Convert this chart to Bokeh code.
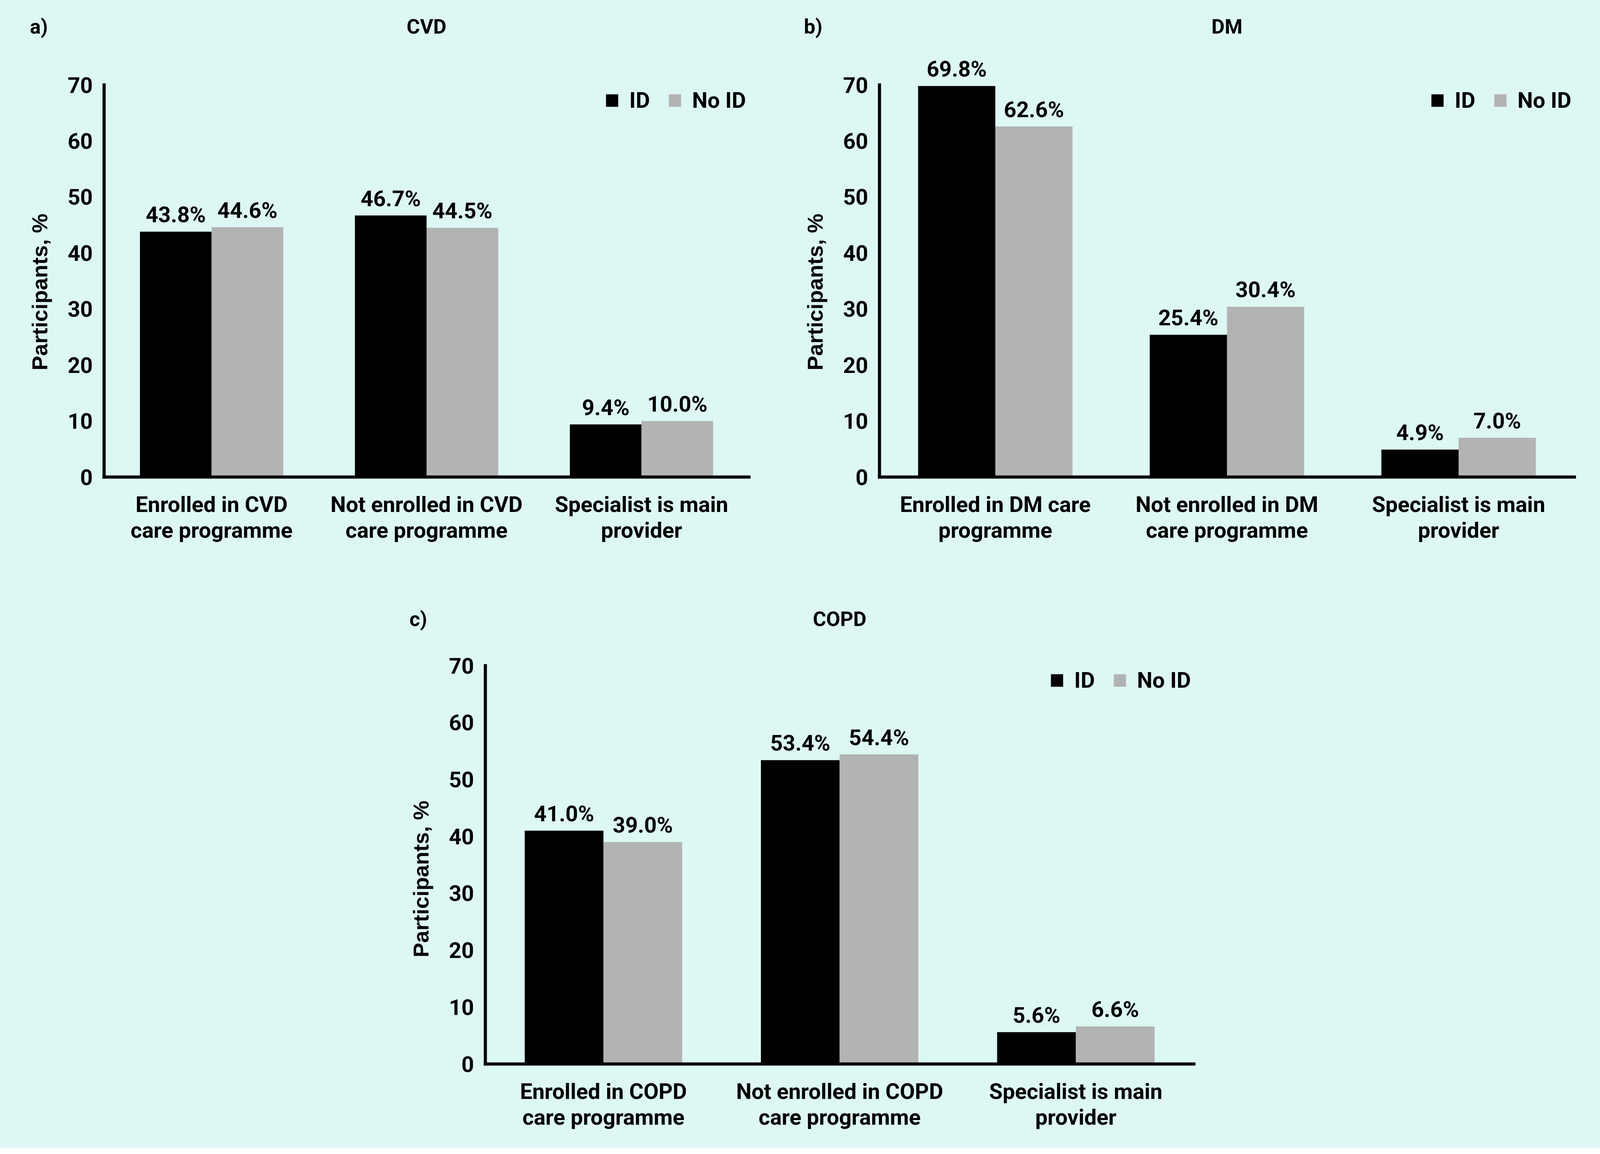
from bokeh.plotting import figure
from bokeh.models import (ColumnDataSource, FactorRange, Range1d, LabelSet,
                          Legend, LegendItem, Title)
from bokeh.transform import dodge
from bokeh.layouts import column, row
from bokeh.embed import file_html
from bokeh.resources import INLINE
from bokeh.core.properties import value

# ---------------- data ----------------
series_names = ["ID", "No ID"]

cvd_categories = ["Enrolled in CVD\ncare programme",
                  "Not enrolled in CVD\ncare programme",
                  "Specialist is main\nprovider"]
cvd_id = [43.8, 46.7, 9.4]
cvd_noid = [44.6, 44.5, 10.0]

dm_categories = ["Enrolled in DM care\nprogramme",
                 "Not enrolled in DM\ncare programme",
                 "Specialist is main\nprovider"]
dm_id = [69.8, 25.4, 4.9]
dm_noid = [62.6, 30.4, 7.0]

copd_categories = ["Enrolled in COPD\ncare programme",
                   "Not enrolled in COPD\ncare programme",
                   "Specialist is main\nprovider"]
copd_id = [41.0, 53.4, 5.6]
copd_noid = [39.0, 54.4, 6.6]

y_ticks = [0, 10, 20, 30, 40, 50, 60, 70]
y_max = 70
y_label = "Participants, %"

# ---------------- style ----------------
BG = "#ddf7f4"
C_ID = "#000000"
C_NOID = "#b3b3b3"
FONT = "Roboto"
YFONT = "Liberation Sans"
SX = 4112 / 4252  # horizontal scale of the visible page width
TOTAL_W = 4096


def cx(v):
    """canvas x from a reference-picture x"""
    return v * SX - 8


def hx(v):
    """horizontal size"""
    return int(round(v * SX))


def make_strip(w, h, letter, letter_gap, title, text_y):
    s = figure(width=w, height=h, x_range=Range1d(0, 1), y_range=Range1d(0, h),
               min_border=0, output_backend="svg", toolbar_location=None,
               x_axis_location=None, background_fill_color=BG,
               border_fill_color=BG, title=None)
    s.outline_line_color = None
    s.grid.visible = False
    ax = s.yaxis[0]
    ax.ticker = [text_y]
    ax.major_label_overrides = {text_y: letter}
    ax.axis_line_color = None
    ax.major_tick_line_color = None
    ax.minor_tick_line_color = None
    ax.major_tick_out = 0
    ax.major_tick_in = 0
    ax.major_label_standoff = hx(letter_gap)
    ax.major_label_text_font = FONT
    ax.major_label_text_font_style = "bold"
    ax.major_label_text_font_size = "52px"
    ax.major_label_text_color = "black"
    s.text(x=[0.5], y=[text_y], text=[title], text_align="center",
           text_baseline="middle", text_font=value(FONT), text_font_style="bold",
           text_font_size="52px", text_color="black")
    return s


def make_panel(cats, id_vals, noid_vals, x0, x1, fl, fr, h, bb, fh_all, fh70, sq_center):
    src = ColumnDataSource(dict(
        cat=cats, idv=id_vals, noidv=noid_vals,
        idt=[f"{v:.1f}%" for v in id_vals],
        noidt=[f"{v:.1f}%" for v in noid_vals]))
    w = x1 - x0
    bl = int(round(cx(fl) - x0))
    br = int(round(x1 - cx(fr)))
    fw = w - bl - br
    y_end = y_max * fh_all / fh70
    p = figure(x_range=FactorRange(*cats), y_range=Range1d(0, y_end),
               width=w, height=h,
               min_border_left=bl, min_border_right=br,
               min_border_top=0, min_border_bottom=bb,
               output_backend="svg", toolbar_location=None, title=None,
               background_fill_color=BG, border_fill_color=BG)
    p.outline_line_color = None
    p.grid.visible = False

    r1 = p.vbar(x=dodge("cat", -1 / 6, range=p.x_range), top="idv", width=1 / 3,
                source=src, fill_color=C_ID, line_color=None)
    r2 = p.vbar(x=dodge("cat", 1 / 6, range=p.x_range), top="noidv", width=1 / 3,
                source=src, fill_color=C_NOID, line_color=None)

    for col, ycol, off in (("idt", "idv", -1 / 6), ("noidt", "noidv", 1 / 6)):
        p.add_layout(LabelSet(x=dodge("cat", off, range=p.x_range), y=ycol, text=col,
                              source=src, y_offset=24, text_align="center",
                              text_baseline="alphabetic", text_font=value(FONT),
                              text_font_size="56px", text_font_style="bold",
                              text_color="black"))

    for ax in (p.xaxis[0], p.yaxis[0]):
        ax.axis_line_width = 8
        ax.axis_line_color = "black"
        ax.axis_line_cap = "square"
        ax.major_tick_line_color = None
        ax.minor_tick_line_color = None
        ax.major_tick_out = 0
        ax.major_tick_in = 0
        ax.major_label_text_font = FONT
        ax.major_label_text_font_style = "bold"
        ax.major_label_text_font_size = "56px"
        ax.major_label_text_color = "black"
    p.yaxis.ticker = y_ticks
    p.yaxis.bounds = (0, y_max)
    p.yaxis.major_label_standoff = hx(30)
    p.xaxis.major_label_standoff = 37
    p.xaxis.major_label_text_line_height = 1.0
    p.xaxis.major_label_text_align = "center"

    p.add_layout(Title(text=y_label, align="left", offset=273, standoff=76,
                       text_font=YFONT, text_font_style="bold",
                       text_font_size="56px", text_color="black"), "left")

    legend = Legend(items=[LegendItem(label=series_names[0], renderers=[r1]),
                           LegendItem(label=series_names[1], renderers=[r2])],
                    orientation="horizontal",
                    location=(fw - 370, fh_all - sq_center - 41),
                    background_fill_alpha=0, border_line_color=None,
                    glyph_width=hx(40), glyph_height=40, label_standoff=hx(26),
                    spacing=hx(45), padding=0, margin=0,
                    label_text_font=FONT, label_text_font_style="bold",
                    label_text_font_size="56px", label_text_color="black")
    p.add_layout(legend)
    return p


# boundary between the two top panels: leave room for panel b's axis title
split = int(round(cx(2336))) - 245
# row 1: strip 122 + panel 1348
sa = make_strip(split, 122, "a)", 149, "CVD", 54)
pa = make_panel(cvd_categories, cvd_id, cvd_noid, 0, split, 283, 1991, h=1348,
                bb=249, fh_all=1099, fh70=1004, sq_center=127)
sb = make_strip(TOTAL_W - split, 122, "b)", 151, "DM", 54)
pb = make_panel(dm_categories, dm_id, dm_noid, split, TOTAL_W, 2336, 4175, h=1348,
                bb=249, fh_all=1099, fh70=1004, sq_center=127)
# row 2: strip 172 + panel 1297
sc = make_strip(TOTAL_W, 172, "c)", 154, "COPD", 57)
pc = make_panel(copd_categories, copd_id, copd_noid, 0, TOTAL_W, 1293, 3168, h=1297,
                bb=215, fh_all=1082, fh70=1020, sq_center=92)

bgs = {"background-color": BG}
layout = column(row(column(sa, pa, styles=bgs), column(sb, pb, styles=bgs), styles=bgs),
                column(sc, pc, styles=bgs), styles=bgs)
open("out.html", "w").write(file_html(layout, INLINE))
